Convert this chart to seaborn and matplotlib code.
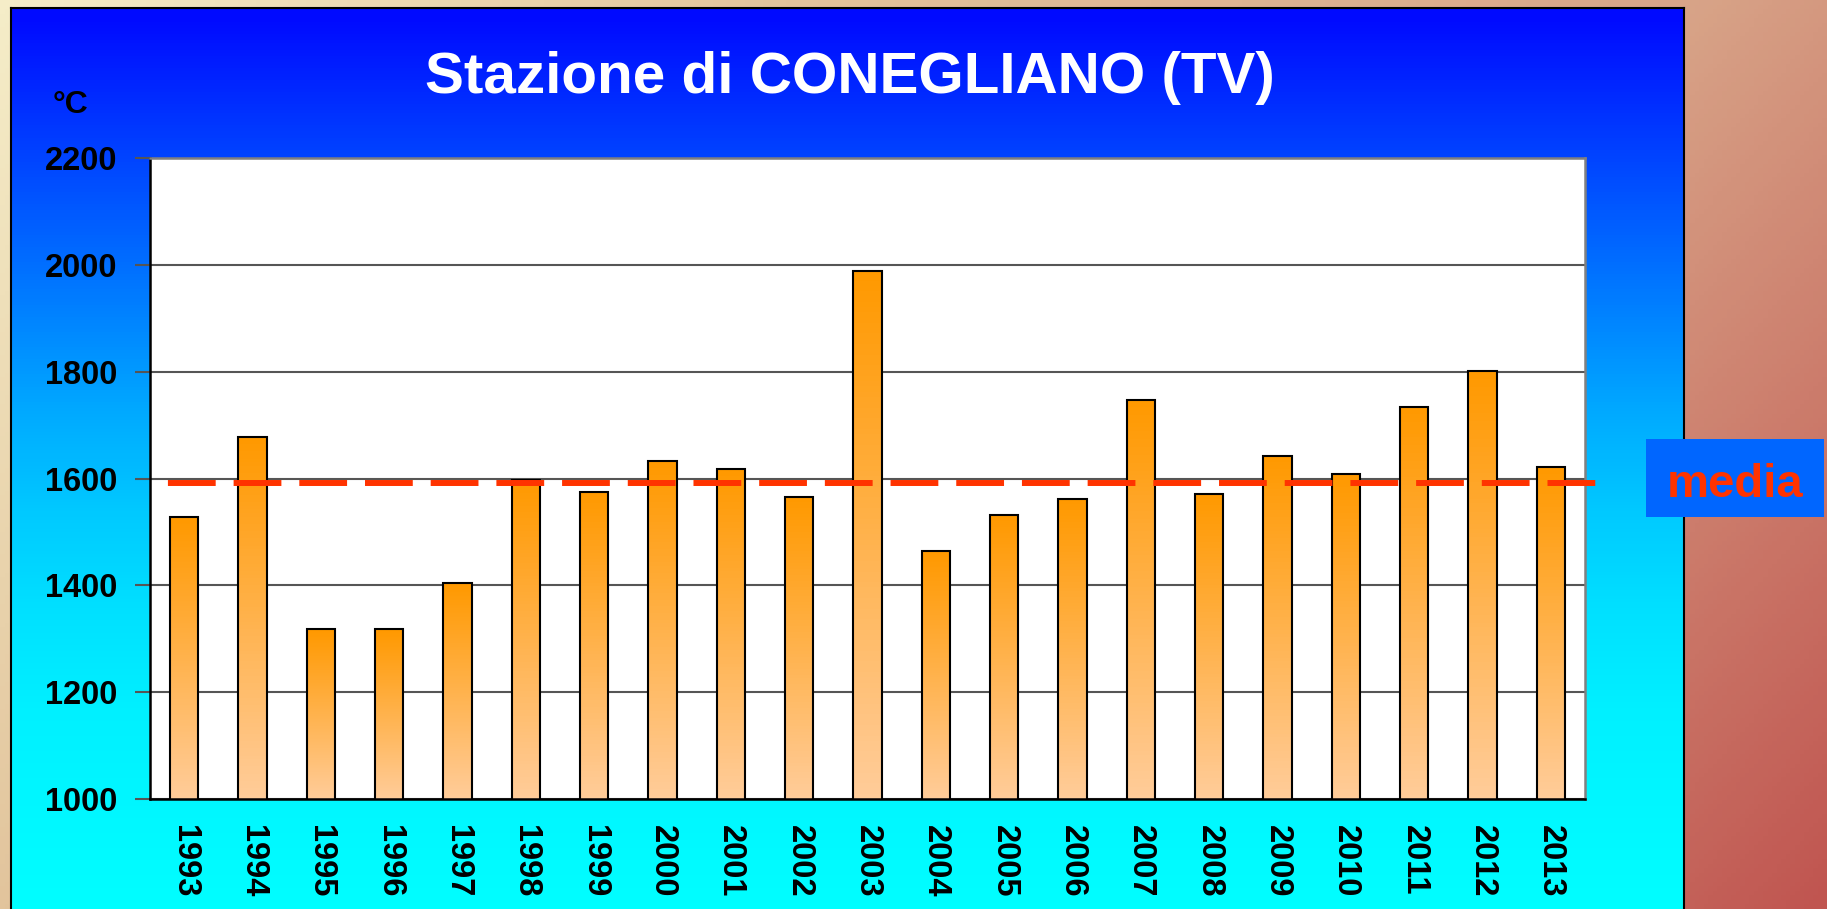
import numpy as np
import pandas as pd
import matplotlib
matplotlib.use("Agg")
import matplotlib.pyplot as plt
from matplotlib.colors import LinearSegmentedColormap
from matplotlib.patches import Rectangle
import seaborn as sns

# Dati
anni = [str(a) for a in range(1993, 2014)]
valori = [1527, 1677, 1318, 1318, 1405, 1597, 1575, 1632, 1617, 1566, 1989,
          1464, 1532, 1562, 1747, 1571, 1643, 1608, 1734, 1802, 1621]
media = 1591
y_ticks = [1000, 1200, 1400, 1600, 1800, 2000, 2200]
titolo = "Stazione di CONEGLIANO (TV)"
unita = "°C"
etichetta_media = "media"

sns.set_style("white")
plt.rcParams['font.family'] = ['Liberation Sans', 'DejaVu Sans']
plt.rcParams['font.weight'] = 'bold'
plt.rcParams['text.color'] = 'black'

W, H = 1827, 909
fig = plt.figure(figsize=(W / 100, H / 100), dpi=100)


def sfondo_pagina():
    """Sfondo diagonale beige -> rosso"""
    ax_bg = fig.add_axes([0, 0, 1, 1])
    xx, yy = np.meshgrid(np.linspace(0, 1, 400), np.linspace(0, 1, 200))
    t = 0.7 * xx + 0.3 * yy
    cmap = LinearSegmentedColormap.from_list(
        "pag", [(0, "#f5edc8"), (0.3, "#e2c49c"), (0.65, "#d8a488"), (1, "#c05550")])
    ax_bg.imshow(t, cmap=cmap, aspect='auto', extent=[0, 1, 0, 1], origin='upper')
    ax_bg.set_axis_off()


def pannello_blu():
    """Pannello con sfumatura blu -> ciano"""
    ax_p = fig.add_axes([11 / W, -0.01, 1673 / W, 1 - 8 / H + 0.01])
    ys = np.linspace(0, 909, 300)
    g = np.interp(ys, [10, 140, 260, 300, 400, 500, 600, 700, 909],
                  [10, 64, 112, 128, 168, 200, 224, 240, 255]) / 255
    img = np.zeros((300, 1, 3))
    img[:, 0, 1] = g
    img[:, 0, 2] = 1
    ax_p.imshow(img, aspect='auto', extent=[0, 1, 0, 1], origin='upper')
    ax_p.set_xticks([])
    ax_p.set_yticks([])
    for s in ax_p.spines.values():
        s.set_color('black')
        s.set_linewidth(1.5)


def grafico():
    ax = fig.add_axes([150 / W, 1 - 799 / H, 1435 / W, 641 / H])
    ax.set_facecolor('white')
    df = pd.DataFrame({'anno': anni, 'valore': valori})
    sns.barplot(data=df, x='anno', y='valore', ax=ax, width=0.41,
                color='white', edgecolor='black', linewidth=1.5, zorder=3)

    # Sfumatura arancione dentro ogni barra
    cmap_bar = LinearSegmentedColormap.from_list("bar", ["#ffcc99", "#ff9900"])
    grad = np.linspace(1, 0, 100).reshape(-1, 1)
    for p in ax.patches:
        p.set_facecolor('none')
        x0 = p.get_x()
        x1 = x0 + p.get_width()
        top = p.get_y() + p.get_height()
        im = ax.imshow(grad, cmap=cmap_bar, aspect='auto',
                       extent=[x0, x1, y_ticks[0], top], zorder=2.5)
        im.set_clip_path(p)

    ax.set_xlim(-0.5, len(anni) - 0.5)
    ax.set_ylim(y_ticks[0], y_ticks[-1])
    ax.set_yticks(y_ticks)
    ax.yaxis.grid(True, color='#555555', linewidth=1.5, zorder=0)
    ax.set_axisbelow(True)
    ax.set_xlabel('')
    ax.set_ylabel('')

    # Linea della media
    ax.plot([-0.5, len(anni) - 0.2], [media, media], color='#ff3300',
            linewidth=4.3, linestyle=(8, (8, 3)), clip_on=False, zorder=4)

    ax.set_xticks(np.arange(len(anni)) - 0.5, minor=True)
    ax.tick_params(axis='x', which='major', length=0, pad=19, labelsize=23.5,
                   labelrotation=-90, labelcolor='black')
    ax.tick_params(axis='x', which='minor', length=10, width=1.5, color='#333333')
    ax.tick_params(axis='y', length=11, width=1.5, color='#555555', pad=12.5,
                   labelsize=23.5, left=True, labelcolor='black')
    for lab in ax.get_xticklabels() + ax.get_yticklabels():
        lab.set_fontweight('bold')

    ax.spines['left'].set_color('black')
    ax.spines['bottom'].set_color('black')
    ax.spines['top'].set_color('#808080')
    ax.spines['right'].set_color('#808080')
    for s in ax.spines.values():
        s.set_linewidth(1.8)
    return ax


sfondo_pagina()
pannello_blu()
grafico()

fig.text(850 / W, 1 - 93 / H, titolo, ha='center', va='baseline',
         fontsize=42, fontweight='bold', color='white')
fig.text(70 / W, 1 - 113 / H, unita, ha='center', va='baseline',
         fontsize=23, fontweight='bold', color='black')

# Riquadro "media"
fig.patches.append(Rectangle((1646 / W, 1 - 517 / H), 178 / W, 78 / H,
                             transform=fig.transFigure, facecolor='#0066ff',
                             edgecolor='none', zorder=5))
fig.text(1735 / W, 1 - 497 / H, etichetta_media, ha='center', va='baseline',
         fontsize=34, fontweight='bold', color='#ff3300', zorder=6)

fig.savefig('out.png', dpi=100)
